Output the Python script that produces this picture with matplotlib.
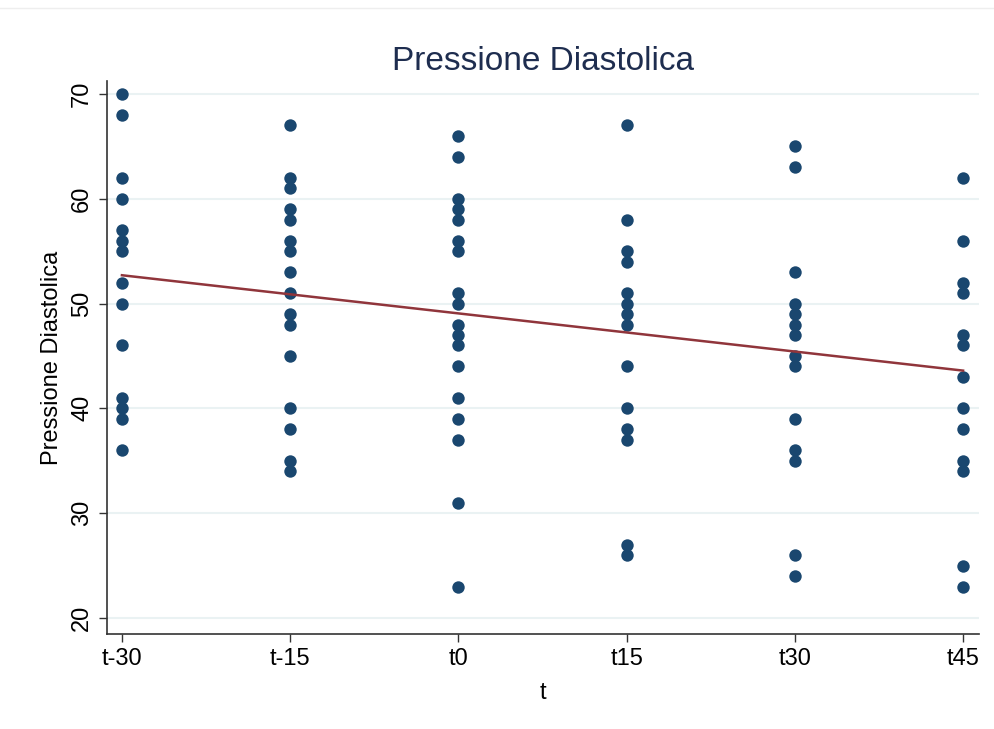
import matplotlib
matplotlib.use("Agg")
import matplotlib.pyplot as plt
from matplotlib.lines import Line2D
import numpy as np

plt.rcParams['font.family'] = ['Liberation Sans', 'DejaVu Sans']

# dati
tempi = ["t-30", "t-15", "t0", "t15", "t30", "t45"]
p_tm30 = [70, 68, 62, 60, 57, 56, 55, 52, 50, 46, 41, 40, 39, 36]
p_tm15 = [67, 62, 61, 59, 58, 56, 55, 53, 51, 49, 48, 45, 40, 38, 35, 34]
p_t0 = [66, 64, 60, 59, 58, 56, 55, 51, 50, 48, 47, 46, 44, 41, 39, 37, 31, 23]
p_t15 = [67, 58, 55, 54, 51, 50, 49, 48, 44, 40, 38, 37, 27, 26]
p_t30 = [65, 63, 53, 50, 49, 48, 47, 45, 44, 39, 36, 35, 26, 24]
p_t45 = [62, 56, 52, 51, 47, 46, 43, 40, 38, 35, 34, 25, 23]
colonne = [p_tm30, p_tm15, p_t0, p_t15, p_t30, p_t45]

# estremi della retta di regressione (ci sono punti sovrapposti)
fit_x = [0, 5]
fit_y = [52.7, 43.6]

xs = []
ys = []
for i, c in enumerate(colonne):
    xs += [i] * len(c)
    ys += c

fig = plt.figure(figsize=(9.95, 7.29), dpi=100)
ax = fig.add_axes([0.1075, 0.1303, 0.8765, 0.7587])

ax.scatter(xs, ys, s=80, color="#1a476f", zorder=3, linewidths=0)
ax.plot(fit_x, fit_y, color="#90353b", lw=1.8, zorder=4)

ax.set_xlim(-0.089, 5.095)
ax.set_ylim(18.47, 71.24)
ax.set_xticks(range(6))
ax.set_xticklabels(tempi, fontsize=17)
ax.set_yticks([20, 30, 40, 50, 60, 70])
ax.set_yticklabels(["20", "30", "40", "50", "60", "70"], fontsize=17, rotation=90, va="center")
ax.grid(axis="y", color="#eaf2f3", lw=1.5)
ax.set_axisbelow(True)
for s in ["top", "right"]:
    ax.spines[s].set_visible(False)
for s in ["left", "bottom"]:
    ax.spines[s].set_color("#333333")
    ax.spines[s].set_linewidth(1.2)
ax.tick_params(length=6, width=1, color="#333333", pad=4)

ax.set_xlabel("t", fontsize=17, labelpad=9)
ax.set_ylabel("Pressione Diastolica", fontsize=17, labelpad=6)
ax.set_title("Pressione Diastolica", fontsize=24, color="#1e2d4f", pad=8)

fig.add_artist(Line2D([0, 1], [0.989, 0.989], color="#eeeeee", lw=1))

fig.savefig("out.png", dpi=100)
